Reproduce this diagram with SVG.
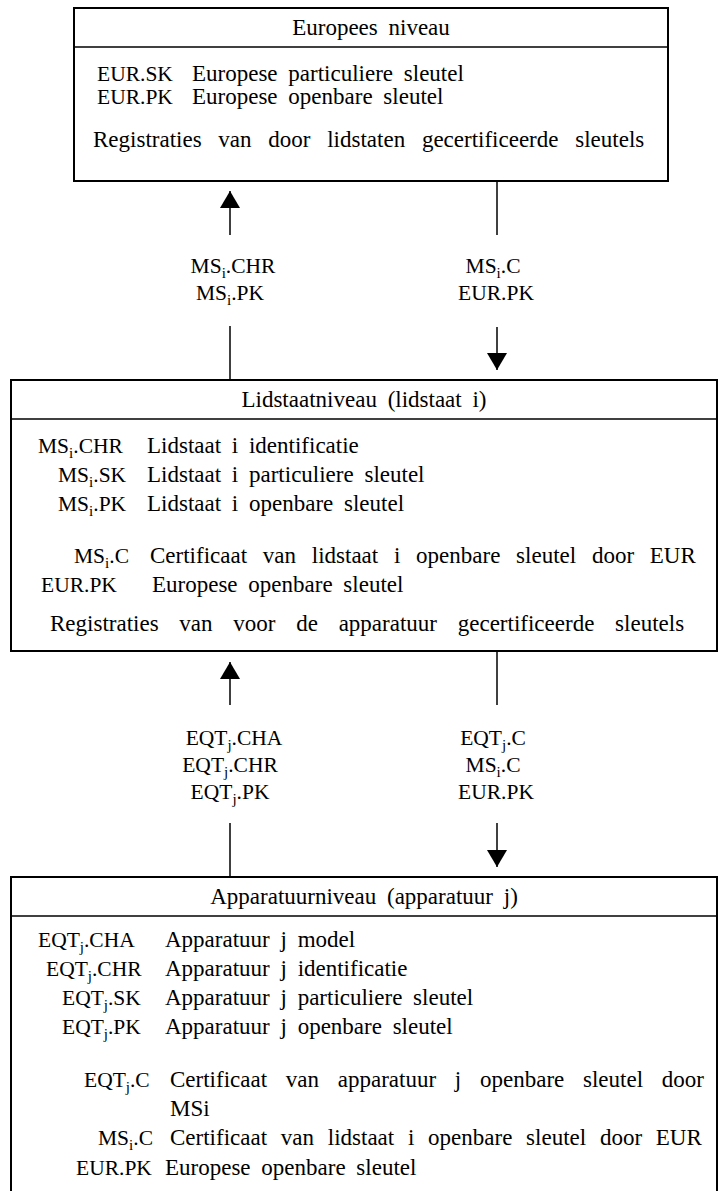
<svg xmlns="http://www.w3.org/2000/svg" width="718" height="1191" viewBox="0 0 718 1191">
<style>
text{font-family:"Liberation Serif","Times New Roman",serif;font-size:23px;fill:#000;word-spacing:5px}
.code{font-size:21.5px;word-spacing:0}
.mid{text-anchor:middle}
.sub{font-size:15px}
.box{fill:#fff;stroke:#000;stroke-width:2}
.div{stroke:#000;stroke-width:1.5}
.con{stroke:#000;stroke-width:1.5;fill:none}
</style>
<defs>
<marker id="ah" viewBox="0 0 17 20" refX="17" refY="10" markerWidth="17" markerHeight="20" markerUnits="userSpaceOnUse" orient="auto">
<path d="M0,0 L17,10 L0,20 Z" fill="#000"/>
</marker>
</defs>
<rect width="718" height="1191" fill="#fff"/>

<g id="node-europees">
<rect class="box" x="74" y="8" width="594" height="173"/>
<line class="div" x1="74" y1="47" x2="668" y2="47"/>
<text class="mid" x="371" y="35">Europees niveau</text>
<text class="code" x="97" y="81">EUR.SK</text>
<text x="192" y="81">Europese particuliere sleutel</text>
<text class="code" x="97" y="104">EUR.PK</text>
<text x="192" y="104">Europese openbare sleutel</text>
<text x="93" y="147" style="word-spacing:11px">Registraties van door lidstaten gecertificeerde sleutels</text>
</g>

<g id="node-lidstaat">
<rect class="box" x="11" y="380" width="706" height="271"/>
<line class="div" x1="11" y1="419" x2="717" y2="419"/>
<text class="mid" x="364" y="407">Lidstaatniveau (lidstaat i)</text>
<text class="code" x="38" y="453">MS<tspan class="sub" dy="5">i</tspan><tspan dy="-5">.CHR</tspan></text>
<text x="147" y="453">Lidstaat i identificatie</text>
<text class="code" x="58" y="482">MS<tspan class="sub" dy="5">i</tspan><tspan dy="-5">.SK</tspan></text>
<text x="147" y="482">Lidstaat i particuliere sleutel</text>
<text class="code" x="58" y="511">MS<tspan class="sub" dy="5">i</tspan><tspan dy="-5">.PK</tspan></text>
<text x="147" y="511">Lidstaat i openbare sleutel</text>
<text class="code" x="74" y="563">MS<tspan class="sub" dy="5">i</tspan><tspan dy="-5">.C</tspan></text>
<text x="150" y="563" style="word-spacing:10px">Certificaat van lidstaat i openbare sleutel door EUR</text>
<text class="code" x="41" y="592">EUR.PK</text>
<text x="152" y="592">Europese openbare sleutel</text>
<text x="50" y="631" style="word-spacing:15px">Registraties van voor de apparatuur gecertificeerde sleutels</text>
</g>

<g id="node-apparatuur">
<rect class="box" x="11" y="877" width="706" height="330"/>
<line class="div" x1="11" y1="916" x2="717" y2="916"/>
<text class="mid" x="364" y="904">Apparatuurniveau (apparatuur j)</text>
<text class="code" x="38" y="947">EQT<tspan class="sub" dy="5">j</tspan><tspan dy="-5">.CHA</tspan></text>
<text x="165" y="947">Apparatuur j model</text>
<text class="code" x="46" y="976">EQT<tspan class="sub" dy="5">j</tspan><tspan dy="-5">.CHR</tspan></text>
<text x="165" y="976">Apparatuur j identificatie</text>
<text class="code" x="62" y="1005">EQT<tspan class="sub" dy="5">j</tspan><tspan dy="-5">.SK</tspan></text>
<text x="165" y="1005">Apparatuur j particuliere sleutel</text>
<text class="code" x="62" y="1034">EQT<tspan class="sub" dy="5">j</tspan><tspan dy="-5">.PK</tspan></text>
<text x="165" y="1034">Apparatuur j openbare sleutel</text>
<text class="code" x="84" y="1087">EQT<tspan class="sub" dy="5">j</tspan><tspan dy="-5">.C</tspan></text>
<text x="170" y="1087" style="word-spacing:13px">Certificaat van apparatuur j openbare sleutel door</text>
<text x="170" y="1116">MSi</text>
<text class="code" x="98" y="1145">MS<tspan class="sub" dy="5">i</tspan><tspan dy="-5">.C</tspan></text>
<text x="170" y="1145" style="word-spacing:8px">Certificaat van lidstaat i openbare sleutel door EUR</text>
<text class="code" x="76" y="1175">EUR.PK</text>
<text x="165" y="1175">Europese openbare sleutel</text>
</g>

<g id="connectors">
<path class="con" d="M230,235 L230,191" marker-end="url(#ah)"/>
<path class="con" d="M230,326 L230,380"/>
<path class="con" d="M497,181 L497,235"/>
<path class="con" d="M497,327 L497,370" marker-end="url(#ah)"/>
<text class="code mid" x="233" y="273">MS<tspan class="sub" dy="5">i</tspan><tspan dy="-5">.CHR</tspan></text>
<text class="code mid" x="230" y="300">MS<tspan class="sub" dy="5">i</tspan><tspan dy="-5">.PK</tspan></text>
<text class="code mid" x="493" y="273">MS<tspan class="sub" dy="5">i</tspan><tspan dy="-5">.C</tspan></text>
<text class="code mid" x="496" y="300">EUR.PK</text>

<path class="con" d="M230,705 L230,662" marker-end="url(#ah)"/>
<path class="con" d="M230,823 L230,877"/>
<path class="con" d="M497,651 L497,705"/>
<path class="con" d="M497,823 L497,867" marker-end="url(#ah)"/>
<text class="code mid" x="234" y="745">EQT<tspan class="sub" dy="5">j</tspan><tspan dy="-5">.CHA</tspan></text>
<text class="code mid" x="230" y="772">EQT<tspan class="sub" dy="5">j</tspan><tspan dy="-5">.CHR</tspan></text>
<text class="code mid" x="230" y="799">EQT<tspan class="sub" dy="5">j</tspan><tspan dy="-5">.PK</tspan></text>
<text class="code mid" x="493" y="745">EQT<tspan class="sub" dy="5">j</tspan><tspan dy="-5">.C</tspan></text>
<text class="code mid" x="493" y="772">MS<tspan class="sub" dy="5">i</tspan><tspan dy="-5">.C</tspan></text>
<text class="code mid" x="496" y="799">EUR.PK</text>
</g>
</svg>
